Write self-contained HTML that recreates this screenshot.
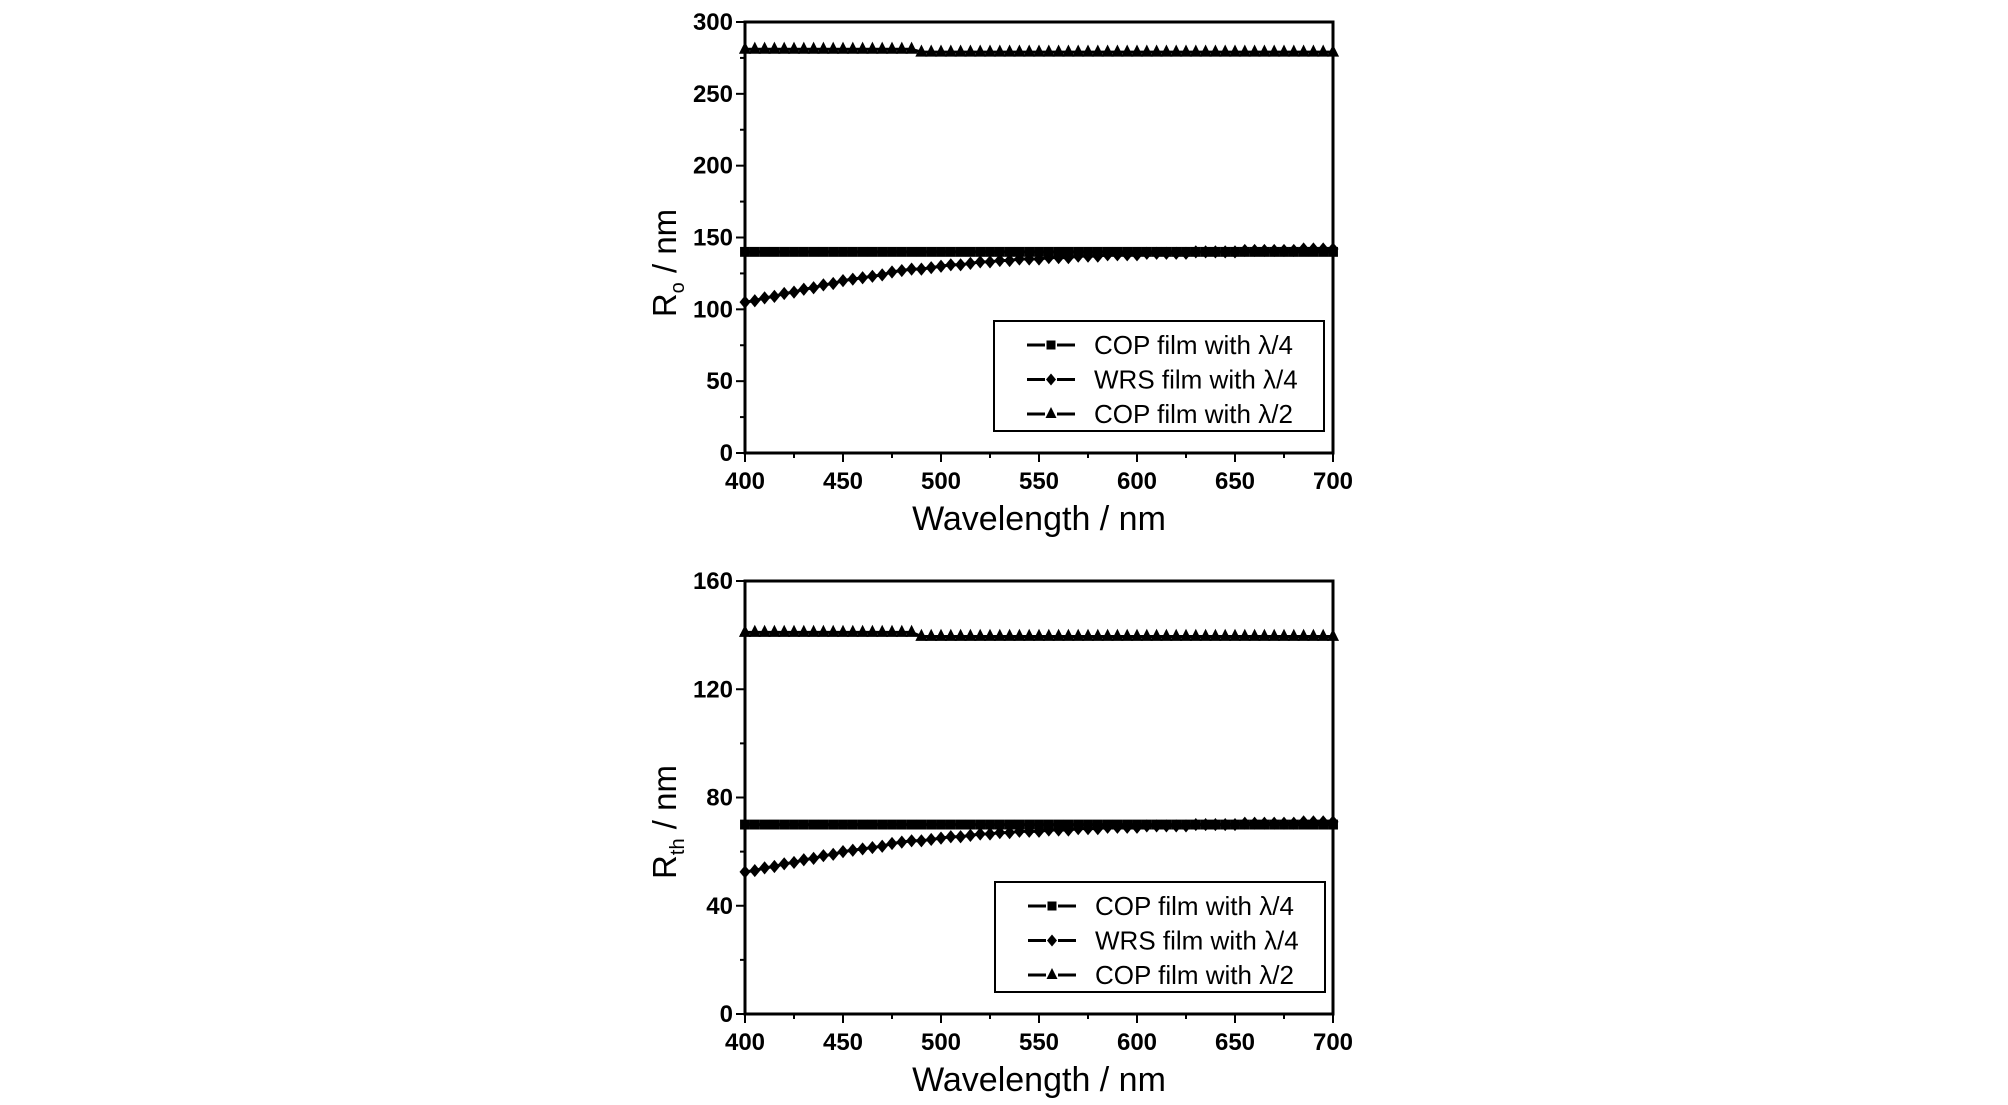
<!DOCTYPE html>
<html><head><meta charset="utf-8">
<style>
html,body{margin:0;padding:0;background:#fff;}
svg{display:block;font-family:"Liberation Sans",Arial,sans-serif;}
</style></head>
<body>
<svg id="chart" width="2008" height="1105" viewBox="0 0 2008 1105" xmlns="http://www.w3.org/2000/svg"></svg>
<script>
const wavelengths = [400,405,410,415,420,425,430,435,440,445,450,455,460,465,470,475,480,485,490,495,500,505,510,515,520,525,530,535,540,545,550,555,560,565,570,575,580,585,590,595,600,605,610,615,620,625,630,635,640,645,650,655,660,665,670,675,680,685,690,695,700];
const roCop4 = [140,140,140,140,140,140,140,140,140,140,140,140,140,140,140,140,140,140,140,140,140,140,140,140,140,140,140,140,140,140,140,140,140,140,140,140,140,140,140,140,140,140,140,140,140,140,140,140,140,140,140,140,140,140,140,140,140,140,140,140,140];
const roWrs4 = [105,106,108,109,111,112,114,115,117,118,120,121,122,123,124,126,127,128,128,129,130,131,131,132,133,133,134,134,135,135,135,136,136,136,137,137,137,138,138,138,138,139,139,139,139,139,140,140,140,140,140,141,141,141,141,141,141,142,142,142,142];
const roCop2 = [281,281,281,281,281,281,281,281,281,281,281,281,281,281,281,281,281,281,279,279,279,279,279,279,279,279,279,279,279,279,279,279,279,279,279,279,279,279,279,279,279,279,279,279,279,279,279,279,279,279,279,279,279,279,279,279,279,279,279,279,279];
const rthCop4 = [70,70,70,70,70,70,70,70,70,70,70,70,70,70,70,70,70,70,70,70,70,70,70,70,70,70,70,70,70,70,70,70,70,70,70,70,70,70,70,70,70,70,70,70,70,70,70,70,70,70,70,70,70,70,70,70,70,70,70,70,70];
const rthWrs4 = [52.5,53,54,54.5,55.5,56,57,57.5,58.5,59,60,60.5,61,61.5,62,63,63.5,64,64,64.5,65,65.5,65.5,66,66.5,66.5,67,67,67.5,67.5,67.5,68,68,68,68.5,68.5,68.5,69,69,69,69,69.5,69.5,69.5,69.5,69.5,70,70,70,70,70,70.5,70.5,70.5,70.5,70.5,70.5,71,71,71,71];
const rthCop2 = [141,141,141,141,141,141,141,141,141,141,141,141,141,141,141,141,141,141,139.5,139.5,139.5,139.5,139.5,139.5,139.5,139.5,139.5,139.5,139.5,139.5,139.5,139.5,139.5,139.5,139.5,139.5,139.5,139.5,139.5,139.5,139.5,139.5,139.5,139.5,139.5,139.5,139.5,139.5,139.5,139.5,139.5,139.5,139.5,139.5,139.5,139.5,139.5,139.5,139.5,139.5,139.5];
const xTicks = [400,450,500,550,600,650,700];
const roTicks = [0,50,100,150,200,250,300];
const rthTicks = [0,40,80,120,160];
const legendLabels = ["COP film with λ/4","WRS film with λ/4","COP film with λ/2"];

const NS="http://www.w3.org/2000/svg";
const svg=document.getElementById('chart');
function mk(tag,attrs,parent){const e=document.createElementNS(NS,tag);for(const k in attrs)e.setAttribute(k,attrs[k]);(parent||svg).appendChild(e);return e;}

function marker(g,shape,x,y,s){
  let m;
  if(shape==='square'){m=mk('rect',{x:x-s*0.45,y:y-s*0.45,width:s*0.9,height:s*0.9,fill:'#000'},g);}
  else if(shape==='diamond'){m=mk('polygon',{points:`${x},${y-s*0.6} ${x+s*0.5},${y} ${x},${y+s*0.6} ${x-s*0.5},${y}`,fill:'#000'},g);}
  else {m=mk('polygon',{points:`${x},${y-s*0.7} ${x+s*0.55},${y+s*0.4} ${x-s*0.55},${y+s*0.4}`,fill:'#000'},g);}
  return m;
}

function panel(cfg){
  const {left,right,top,bottom,ymax,yticks,yminor,series,leg,ytitleSub,ytitleY,xlabY,xtitleY,name}=cfg;
  const g=mk('g',{});
  
  
  const sx=v=>left+(v-400)/300*(right-left);
  const sy=v=>bottom-v/ymax*(bottom-top);
  const ax=mk('g',{},g);
  
  
  for(let v=400;v<=700;v+=25){
    const maj=v%50===0;
    mk('line',{x1:sx(v),x2:sx(v),y1:bottom,y2:bottom+(maj?9:5),stroke:'#000','stroke-width':2},ax);
  }
  xTicks.forEach(v=>{
    const t=mk('text',{x:sx(v),y:xlabY,'text-anchor':'middle','font-size':24,'font-weight':'bold'},ax);
    t.textContent=v;
    
    
  });
  const xt=mk('text',{x:(left+right)/2,y:xtitleY,'text-anchor':'middle','font-size':34},ax);
  xt.textContent='Wavelength / nm';
  
  
  const ay=mk('g',{},g);
  
  
  for(let v=0;v<=ymax;v+=yminor){
    const maj=yticks.includes(v);
    mk('line',{x1:left,x2:left-(maj?9:5),y1:sy(v),y2:sy(v),stroke:'#000','stroke-width':2},ay);
  }
  yticks.forEach(v=>{
    const t=mk('text',{x:left-12,y:sy(v)+8,'text-anchor':'end','font-size':24,'font-weight':'bold'},ay);
    t.textContent=v;
    
    
  });
  const yt=mk('text',{transform:`translate(676,${ytitleY}) rotate(-90)`,'text-anchor':'middle','font-size':33},ay);
  
  
  const ts1=mk('tspan',{},yt);ts1.textContent='R';
  const ts2=mk('tspan',{'font-size':20,dy:8},yt);ts2.textContent=ytitleSub;
  const ts3=mk('tspan',{dy:-8},yt);ts3.textContent=' / nm';
  series.forEach(s=>{
    const sg=mk('g',{},g);
    
    
    const pts=wavelengths.map((w,i)=>`${sx(w)},${sy(s.data[i])}`).join(' ');
    mk('polyline',{points:pts,fill:'none',stroke:'#000','stroke-width':3},sg);
    wavelengths.forEach((w,i)=>{
      const m=marker(sg,s.shape,sx(w),sy(s.data[i]),11);
      
      
    });
  });
  const fr=mk('rect',{x:left,y:top,width:right-left,height:bottom-top,fill:'none',stroke:'#000','stroke-width':3},g);
  
  
  const lg=mk('g',{},g);
  
  
  mk('rect',{x:leg.x,y:leg.y,width:leg.w,height:leg.h,fill:'#fff',stroke:'#000','stroke-width':2},lg);
  const shapes=['square','diamond','triangle'];
  legendLabels.forEach((lab,i)=>{
    const ey=leg.y+24+i*34.5;
    const e=mk('g',{},lg);
    
    
    mk('line',{x1:leg.x+33,x2:leg.x+51,y1:ey,y2:ey,stroke:'#000','stroke-width':3},e);
    mk('line',{x1:leg.x+63,x2:leg.x+81,y1:ey,y2:ey,stroke:'#000','stroke-width':3},e);
    marker(e,shapes[i],leg.x+57,ey,10);
    const t=mk('text',{x:leg.x+100,y:ey+9,'font-size':26},e);
    t.textContent=lab;
  });
}

panel({name:'ro-panel',left:745,right:1333,top:22,bottom:453,ymax:300,yticks:roTicks,yminor:25,
  series:[{name:'series-cop-quarter',data:roCop4,shape:'square'},{name:'series-wrs-quarter',data:roWrs4,shape:'diamond'},{name:'series-cop-half',data:roCop2,shape:'triangle'}],
  leg:{x:994,y:321,w:330,h:110},ytitleSub:'o',ytitleY:263,xlabY:489,xtitleY:530});
panel({name:'rth-panel',left:745,right:1333,top:581,bottom:1014,ymax:160,yticks:rthTicks,yminor:20,
  series:[{name:'series-cop-quarter',data:rthCop4,shape:'square'},{name:'series-wrs-quarter',data:rthWrs4,shape:'diamond'},{name:'series-cop-half',data:rthCop2,shape:'triangle'}],
  leg:{x:995,y:882,w:330,h:110},ytitleSub:'th',ytitleY:822,xlabY:1050,xtitleY:1091});
</script>
</body></html>
